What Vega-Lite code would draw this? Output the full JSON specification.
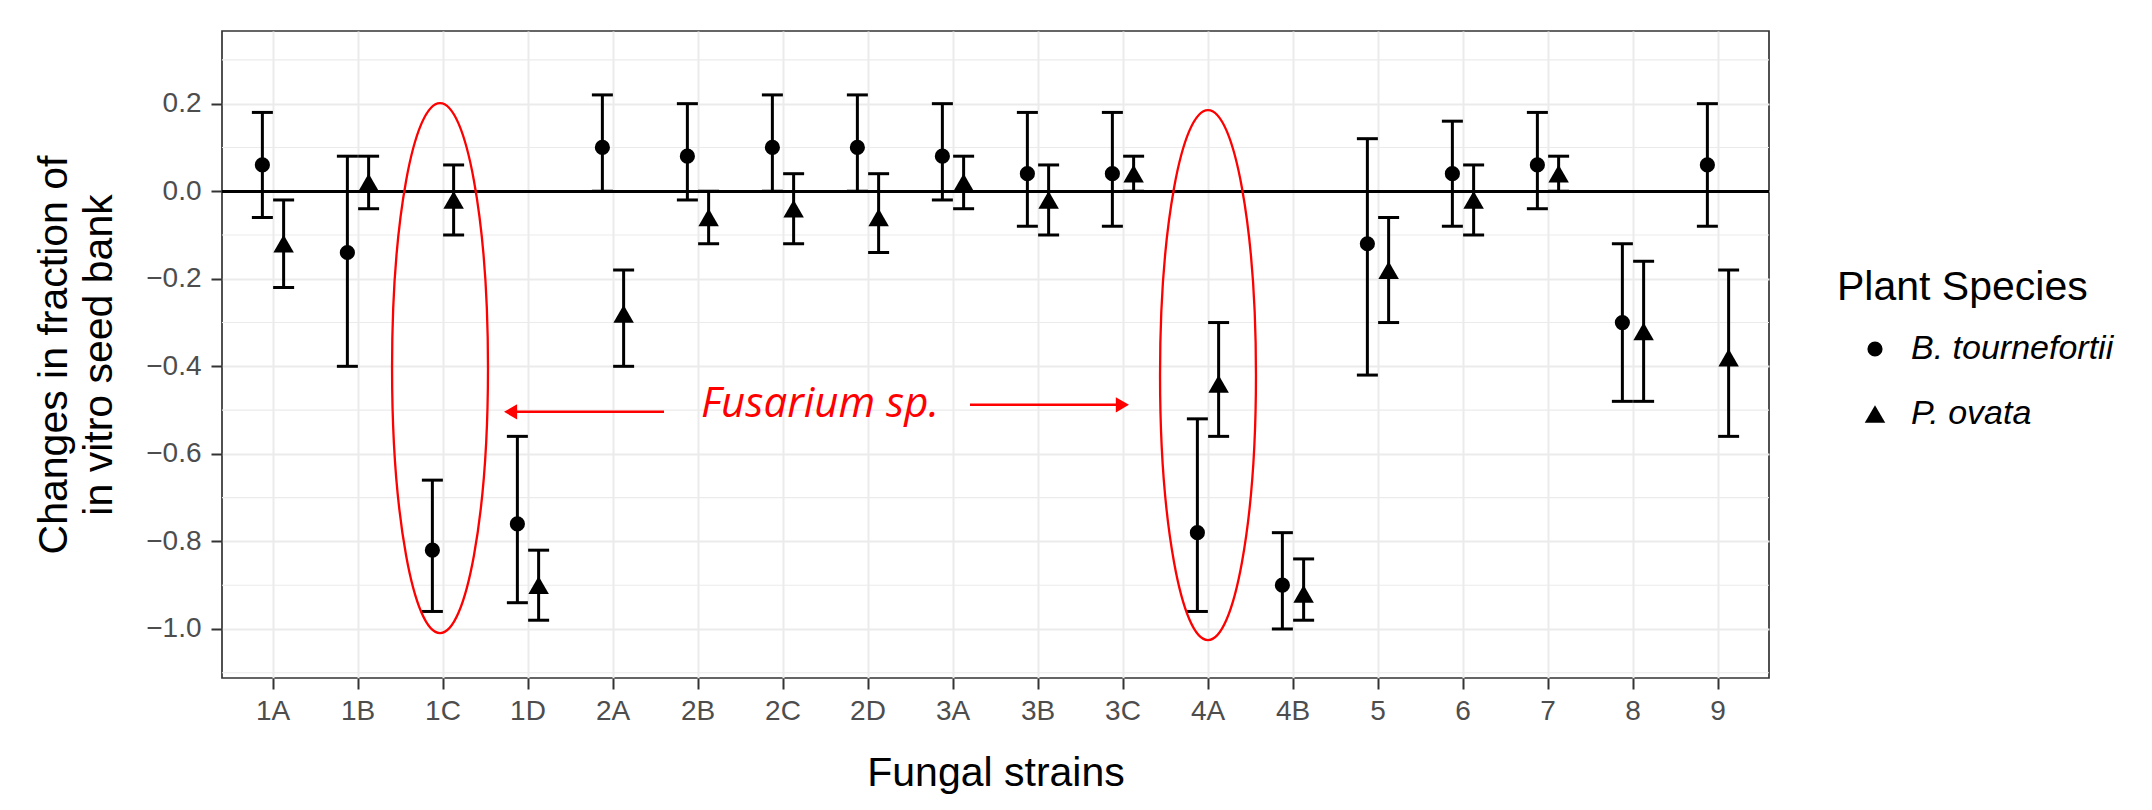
{
  "$schema": "https://vega.github.io/schema/vega-lite/v6.json",
  "width": 1547,
  "height": 647,
  "autosize": {"type": "none"},
  "padding": {"left": 222, "top": 31, "right": 383, "bottom": 132},
  "background": "white",
  "config": {
    "font": "Liberation Sans",
    "view": {"stroke": "#333333", "strokeWidth": 1.7},
    "axis": {
      "labelFont": "Liberation Sans",
      "titleFont": "Liberation Sans",
      "labelFontSize": 28,
      "labelColor": "#4d4d4d",
      "titleFontSize": 41,
      "titleFontWeight": "normal",
      "titleColor": "black",
      "tickColor": "#333333",
      "tickWidth": 2,
      "tickSize": 11,
      "gridColor": "#ebebeb",
      "gridWidth": 2,
      "domain": false
    },
    "legend": {
      "orient": "none",
      "legendX": 1615,
      "legendY": 237,
      "padding": 0,
      "titleFont": "Liberation Sans",
      "titleFontSize": 41,
      "titleFontWeight": "normal",
      "titleColor": "black",
      "titlePadding": 23,
      "titleLimit": 0,
      "labelFont": "Liberation Sans",
      "labelFontSize": 34,
      "labelFontStyle": "italic",
      "labelColor": "black",
      "labelLimit": 0,
      "rowPadding": 31,
      "symbolOffset": 21,
      "labelOffset": 19,
      "symbolFillColor": "black",
      "symbolStrokeColor": "black",
      "symbolStrokeWidth": 0
    }
  },
  "resolve": {"scale": {"x": "independent"}},
  "layer": [
    {
      "data": {
        "values": [
          {"strain": "1A", "species": "B. tournefortii", "mean": 0.06, "lo": -0.06, "hi": 0.18},
          {"strain": "1A", "species": "P. ovata", "mean": -0.12, "lo": -0.22, "hi": -0.02},
          {"strain": "1B", "species": "B. tournefortii", "mean": -0.14, "lo": -0.40, "hi": 0.08},
          {"strain": "1B", "species": "P. ovata", "mean": 0.02, "lo": -0.04, "hi": 0.08},
          {"strain": "1C", "species": "B. tournefortii", "mean": -0.82, "lo": -0.96, "hi": -0.66},
          {"strain": "1C", "species": "P. ovata", "mean": -0.02, "lo": -0.10, "hi": 0.06},
          {"strain": "1D", "species": "B. tournefortii", "mean": -0.76, "lo": -0.94, "hi": -0.56},
          {"strain": "1D", "species": "P. ovata", "mean": -0.90, "lo": -0.98, "hi": -0.82},
          {"strain": "2A", "species": "B. tournefortii", "mean": 0.10, "lo": 0.00, "hi": 0.22},
          {"strain": "2A", "species": "P. ovata", "mean": -0.28, "lo": -0.40, "hi": -0.18},
          {"strain": "2B", "species": "B. tournefortii", "mean": 0.08, "lo": -0.02, "hi": 0.20},
          {"strain": "2B", "species": "P. ovata", "mean": -0.06, "lo": -0.12, "hi": 0.00},
          {"strain": "2C", "species": "B. tournefortii", "mean": 0.10, "lo": 0.00, "hi": 0.22},
          {"strain": "2C", "species": "P. ovata", "mean": -0.04, "lo": -0.12, "hi": 0.04},
          {"strain": "2D", "species": "B. tournefortii", "mean": 0.10, "lo": 0.00, "hi": 0.22},
          {"strain": "2D", "species": "P. ovata", "mean": -0.06, "lo": -0.14, "hi": 0.04},
          {"strain": "3A", "species": "B. tournefortii", "mean": 0.08, "lo": -0.02, "hi": 0.20},
          {"strain": "3A", "species": "P. ovata", "mean": 0.02, "lo": -0.04, "hi": 0.08},
          {"strain": "3B", "species": "B. tournefortii", "mean": 0.04, "lo": -0.08, "hi": 0.18},
          {"strain": "3B", "species": "P. ovata", "mean": -0.02, "lo": -0.10, "hi": 0.06},
          {"strain": "3C", "species": "B. tournefortii", "mean": 0.04, "lo": -0.08, "hi": 0.18},
          {"strain": "3C", "species": "P. ovata", "mean": 0.04, "lo": 0.00, "hi": 0.08},
          {"strain": "4A", "species": "B. tournefortii", "mean": -0.78, "lo": -0.96, "hi": -0.52},
          {"strain": "4A", "species": "P. ovata", "mean": -0.44, "lo": -0.56, "hi": -0.30},
          {"strain": "4B", "species": "B. tournefortii", "mean": -0.90, "lo": -1.00, "hi": -0.78},
          {"strain": "4B", "species": "P. ovata", "mean": -0.92, "lo": -0.98, "hi": -0.84},
          {"strain": "5", "species": "B. tournefortii", "mean": -0.12, "lo": -0.42, "hi": 0.12},
          {"strain": "5", "species": "P. ovata", "mean": -0.18, "lo": -0.30, "hi": -0.06},
          {"strain": "6", "species": "B. tournefortii", "mean": 0.04, "lo": -0.08, "hi": 0.16},
          {"strain": "6", "species": "P. ovata", "mean": -0.02, "lo": -0.10, "hi": 0.06},
          {"strain": "7", "species": "B. tournefortii", "mean": 0.06, "lo": -0.04, "hi": 0.18},
          {"strain": "7", "species": "P. ovata", "mean": 0.04, "lo": 0.00, "hi": 0.08},
          {"strain": "8", "species": "B. tournefortii", "mean": -0.30, "lo": -0.48, "hi": -0.12},
          {"strain": "8", "species": "P. ovata", "mean": -0.32, "lo": -0.48, "hi": -0.16},
          {"strain": "9", "species": "B. tournefortii", "mean": 0.06, "lo": -0.08, "hi": 0.20},
          {"strain": "9", "species": "P. ovata", "mean": -0.38, "lo": -0.56, "hi": -0.18}
        ]
      },
      "layer": [
        {
          "data": {"values": [{"g": -1.1}, {"g": -0.9}, {"g": -0.7}, {"g": -0.5}, {"g": -0.3}, {"g": -0.1}, {"g": 0.1}, {"g": 0.3}]},
          "mark": {"type": "rule", "color": "#ebebeb", "strokeWidth": 1.1},
          "encoding": {
            "y": {"field": "g", "type": "quantitative", "scale": {"domain": [-1.112, 0.366], "nice": false, "zero": false}}
          }
        },
        {
          "mark": {"type": "rule", "color": "black", "strokeWidth": 2.6},
          "encoding": {
            "y": {"datum": 0, "type": "quantitative"}
          }
        },
        {
          "mark": {"type": "rule", "color": "black", "strokeWidth": 3},
          "encoding": {
            "x": {
              "field": "strain", "type": "nominal",
              "sort": ["1A","1B","1C","1D","2A","2B","2C","2D","3A","3B","3C","4A","4B","5","6","7","8","9"],
              "scale": {"type": "band", "paddingInner": 0, "paddingOuter": 0.1},
              "axis": {"title": "Fungal strains", "grid": true, "bandPosition": 0.5, "labelAngle": 0, "labelPadding": 8, "titlePadding": 28}
            },
            "xOffset": {"field": "species", "type": "nominal", "scale": {"paddingInner": 0, "paddingOuter": 1}},
            "y": {
              "field": "lo", "type": "quantitative",
              "scale": {"domain": [-1.112, 0.366], "nice": false, "zero": false},
              "axis": {
                "title": ["Changes in fraction of", "in vitro seed bank"],
                "values": [-1, -0.8, -0.6, -0.4, -0.2, 0, 0.2],
                "format": ".1f",
                "grid": true,
                "labelPadding": 10,
                "titlePadding": 25,
                "titleLineHeight": 45
              }
            },
            "y2": {"field": "hi"}
          }
        },
        {
          "mark": {"type": "tick", "color": "black", "size": 21, "thickness": 3, "opacity": 1},
          "encoding": {
            "x": {"field": "strain", "type": "nominal", "sort": ["1A","1B","1C","1D","2A","2B","2C","2D","3A","3B","3C","4A","4B","5","6","7","8","9"]},
            "xOffset": {"field": "species", "type": "nominal"},
            "y": {"field": "lo", "type": "quantitative"}
          }
        },
        {
          "mark": {"type": "tick", "color": "black", "size": 21, "thickness": 3, "opacity": 1},
          "encoding": {
            "x": {"field": "strain", "type": "nominal", "sort": ["1A","1B","1C","1D","2A","2B","2C","2D","3A","3B","3C","4A","4B","5","6","7","8","9"]},
            "xOffset": {"field": "species", "type": "nominal"},
            "y": {"field": "hi", "type": "quantitative"}
          }
        },
        {
          "mark": {"type": "point", "filled": true, "color": "black", "opacity": 1},
          "encoding": {
            "x": {"field": "strain", "type": "nominal", "sort": ["1A","1B","1C","1D","2A","2B","2C","2D","3A","3B","3C","4A","4B","5","6","7","8","9"]},
            "xOffset": {"field": "species", "type": "nominal"},
            "y": {"field": "mean", "type": "quantitative"},
            "shape": {
              "field": "species", "type": "nominal",
              "scale": {"domain": ["B. tournefortii", "P. ovata"], "range": ["circle", "triangle-up"]},
              "legend": {"title": "Plant Species"}
            },
            "size": {
              "field": "species", "type": "nominal",
              "scale": {"domain": ["B. tournefortii", "P. ovata"], "range": [230, 420]},
              "legend": {"title": "Plant Species"}
            }
          }
        }
      ]
    },
    {
      "layer": [
        {
          "data": {"values": [{"x": 1.965, "y": -0.404}, {"x": 11.0, "y": -0.42}]},
          "mark": {
            "type": "point",
            "shape": "M0,-1C0.1,-1,0.181,-0.5523,0.181,0C0.181,0.5523,0.1,1,0,1C-0.1,1,-0.181,0.5523,-0.181,0C-0.181,-0.5523,-0.1,-1,0,-1Z",
            "size": 280900,
            "filled": false,
            "color": "#ff0000",
            "strokeWidth": 2.3,
            "opacity": 1
          },
          "encoding": {
            "x": {"field": "x", "type": "quantitative", "scale": {"domain": [-0.6, 17.6], "nice": false, "zero": false}, "axis": null},
            "y": {"field": "y", "type": "quantitative"}
          }
        },
        {
          "data": {"values": [{"x": 4.6, "x2": 2.795, "y": -0.504}, {"x": 8.2, "x2": 9.993, "y": -0.488}]},
          "mark": {"type": "rule", "color": "#ff0000", "strokeWidth": 2.5},
          "encoding": {
            "x": {"field": "x", "type": "quantitative"},
            "x2": {"field": "x2"},
            "y": {"field": "y", "type": "quantitative"}
          }
        },
        {
          "data": {"values": [{"x": 2.795, "y": -0.504}]},
          "mark": {"type": "point", "shape": "triangle-left", "size": 230, "filled": true, "color": "#ff0000", "opacity": 1},
          "encoding": {
            "x": {"field": "x", "type": "quantitative"},
            "y": {"field": "y", "type": "quantitative"}
          }
        },
        {
          "data": {"values": [{"x": 9.993, "y": -0.488}]},
          "mark": {"type": "point", "shape": "triangle-right", "size": 230, "filled": true, "color": "#ff0000", "opacity": 1},
          "encoding": {
            "x": {"field": "x", "type": "quantitative"},
            "y": {"field": "y", "type": "quantitative"}
          }
        },
        {
          "data": {"values": [{"x": 6.435, "y": -0.516, "label": "Fusarium sp."}]},
          "mark": {"type": "text", "font": "Open Sans", "fontStyle": "italic", "fontSize": 42, "color": "#ff0000", "align": "center", "baseline": "alphabetic"},
          "encoding": {
            "x": {"field": "x", "type": "quantitative"},
            "y": {"field": "y", "type": "quantitative"},
            "text": {"field": "label"}
          }
        }
      ]
    }
  ]
}
